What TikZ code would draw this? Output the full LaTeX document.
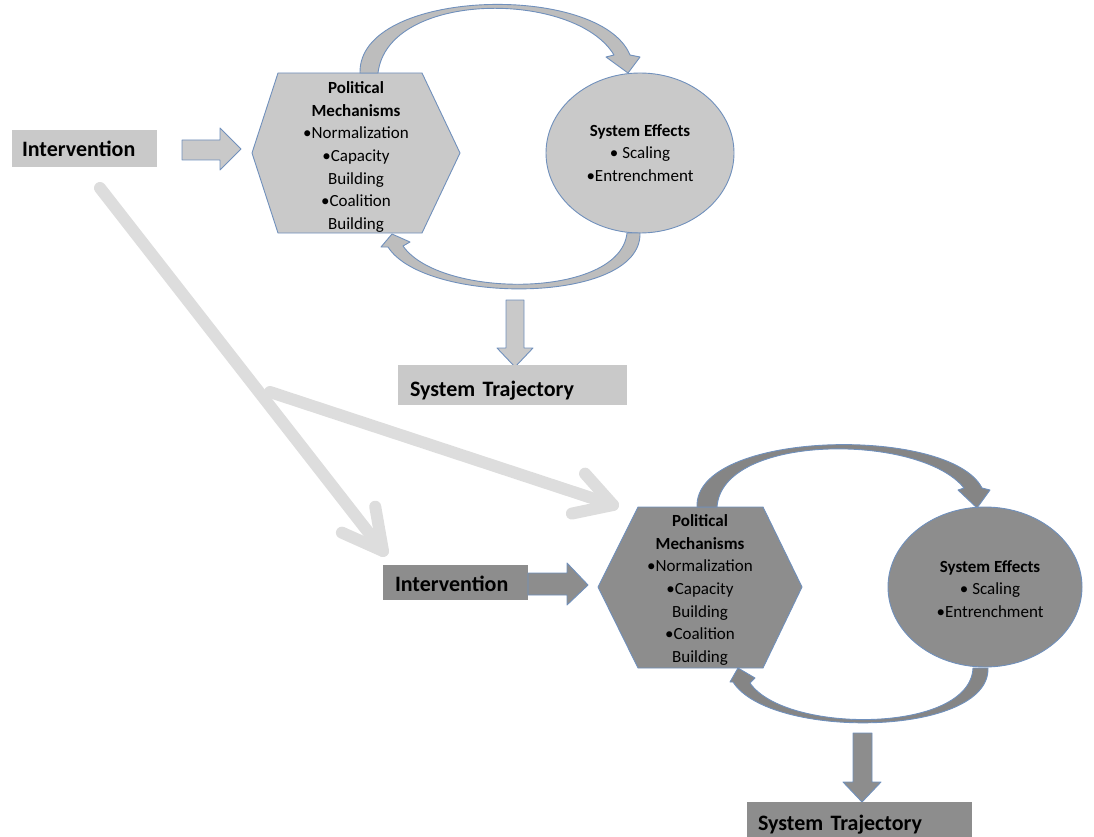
\documentclass[tikz,border=0pt]{standalone}
\usepackage{fontspec}
\setmainfont{Carlito}
\usetikzlibrary{calc}
\definecolor{lightfill}{HTML}{C9C9C9}
\definecolor{darkfill}{HTML}{8D8D8D}
\definecolor{edgeblue}{HTML}{7090BC}
\definecolor{ghost}{HTML}{DDDDDD}
\definecolor{arclight}{HTML}{BDBDBD}
\definecolor{arcdark}{HTML}{858585}
\begin{document}
\begin{tikzpicture}[x=1pt,y=-1pt,
  bigtext/.style={font=\bfseries\fontsize{22}{26}\selectfont},
  labelbox/.style={bigtext, inner ysep=0pt, align=left, text depth=0pt},
  shapeborder/.style={draw=edgeblue, line width=0.9pt, line join=round},
  celltext/.style={font=\fontsize{17}{22.6}\selectfont, align=center, inner sep=0pt},
  ghostarrow/.style={draw=ghost, line width=12pt, line cap=round, line join=round},
]
\useasboundingbox (0,0) rectangle (1094,837);

% ---------------- light (upper) section ----------------
\node[labelbox, fill=lightfill, minimum width=145pt, minimum height=37pt,
      text width=125pt, inner xsep=10pt, text height=16pt] (int1) at (84.5,148.5) {Intervention};

% block arrow
\path[shapeborder, fill=lightfill] (182,140) -- (220,140) -- (220,128) -- (241,149)
   -- (220,170) -- (220,160) -- (182,160) -- cycle;

% hexagon 1
\path[shapeborder, fill=lightfill] (252,153) -- (278,73) -- (422,73) -- (460,153)
   -- (422,233) -- (278,233) -- cycle;
\node[celltext] (pm1) at (356,157) {\textbf{Political}\\\textbf{Mechanisms}\\•Normalization\\•Capacity\\Building\\•Coalition\\Building};

% ellipse 1
\path[shapeborder, fill=lightfill] (640,153) ellipse [x radius=94, y radius=80];
\node[celltext] (se1) at (640,153) {\textbf{System Effects}\\• Scaling\\•Entrenchment};

% upper curved arrow 1
\path[shapeborder, fill=arclight] (360,73) .. controls (358,-12) and (600,-18) .. (630,55)
   -- (640,57) -- (628,73) -- (606,57) -- (614,55)
   .. controls (575,-10) and (388,-10) .. (378,73) -- cycle;

% lower curved arrow 1
\path[shapeborder, fill=arclight] (640,233) .. controls (642,305) and (425,305) .. (388,247)
   -- (381,247) -- (392,234) -- (410,242) -- (403,246)
   .. controls (440,299) and (620,299) .. (627,233) -- cycle;

% down arrow 1
\path[shapeborder, fill=lightfill] (506,300) -- (524,300) -- (524,348) -- (533,348)
   -- (515,367) -- (497,348) -- (506,348) -- cycle;

\node[labelbox, fill=lightfill, minimum width=229pt, minimum height=40pt,
      text width=205pt, inner xsep=12pt, text height=22pt] (st1) at (512.5,385) {System Trajectory};

% ---------------- ghost arrows ----------------
\coordinate (g1s) at (100,188);
\coordinate (g1t) at (383,551);
\coordinate (g2s) at (270,392);
\coordinate (g2t) at (613,505);
\draw[ghostarrow] (g1s) -- (g1t);
\draw[ghostarrow] ($(g1t)!45pt!28:(g1s)$) -- (g1t) -- ($(g1t)!45pt!-28:(g1s)$);
\draw[ghostarrow] (g2s) -- (g2t);
\draw[ghostarrow] ($(g2t)!42pt!30:(g2s)$) -- (g2t) -- ($(g2t)!42pt!-30:(g2s)$);

% ---------------- dark (lower) section ----------------
\node[labelbox, fill=darkfill, minimum width=145pt, minimum height=35pt,
      text width=121pt, inner xsep=12pt, text height=18pt] (int2) at (455.5,582.5) {Intervention};

\path[shapeborder, fill=darkfill] (528,573) -- (567,573) -- (567,563) -- (588,585)
   -- (567,605) -- (567,595) -- (528,595) -- cycle;

% hexagon 2
\path[shapeborder, fill=darkfill] (598,587) -- (638,507) -- (763,507) -- (802,587)
   -- (763,668) -- (638,668) -- cycle;
\node[celltext] (pm2) at (700,590) {\textbf{Political}\\\textbf{Mechanisms}\\•Normalization\\•Capacity\\Building\\•Coalition\\Building};

% ellipse 2
\path[shapeborder, fill=darkfill] (985,587) ellipse [x radius=97, y radius=80];
\node[celltext] (se2) at (990,589) {\textbf{System Effects}\\• Scaling\\•Entrenchment};

% upper curved arrow 2
\path[shapeborder, fill=arcdark] (697,507) .. controls (694,430) and (950,425) .. (982,488)
   -- (990,490) -- (977,508) -- (958,490) -- (964,488)
   .. controls (920,433) and (722,433) .. (717,507) -- cycle;

% lower curved arrow 2
\path[shapeborder, fill=arcdark] (988,668) .. controls (990,737) and (770,740) .. (733,682)
   -- (730,682) -- (738,668) -- (755,678) -- (750,683)
   .. controls (785,734) and (970,734) .. (973,668) -- cycle;

% down arrow 2
\path[shapeborder, fill=darkfill] (853,733) -- (872,733) -- (872,782) -- (881,782)
   -- (862,802) -- (843,782) -- (853,782) -- cycle;

\node[labelbox, fill=darkfill, minimum width=225pt, minimum height=40pt,
      text width=203pt, inner xsep=11pt, text height=16pt] (st2) at (859.5,822) {System Trajectory};
\end{tikzpicture}
\end{document}
